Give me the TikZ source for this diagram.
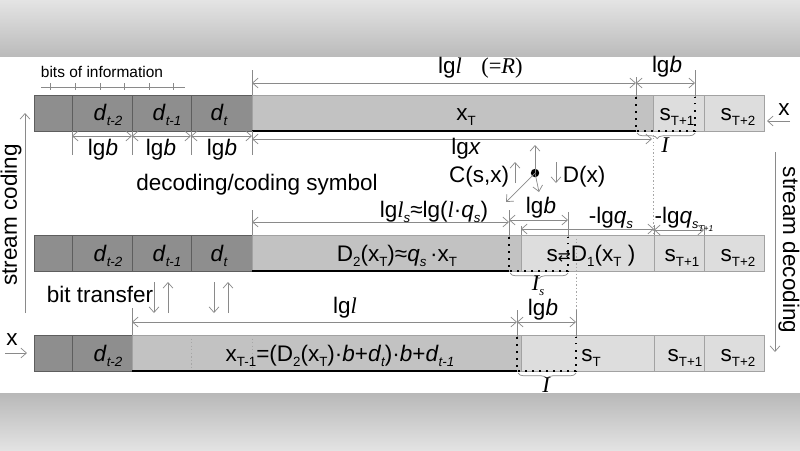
\documentclass[tikz,border=0pt]{standalone}
\usepackage{fontspec}
\setmainfont{Liberation Sans}
\newfontfamily\tms{Liberation Serif}
\newfontfamily\djv{DejaVu Sans}
\usetikzlibrary{arrows.meta,decorations.pathreplacing,fit}
\definecolor{dk}{HTML}{8E8E8E}
\definecolor{dkln}{HTML}{5E5E5E}
\definecolor{md}{HTML}{C2C2C2}
\definecolor{lt}{HTML}{DDDDDD}
\definecolor{ln}{HTML}{A2A2A2}
\definecolor{arr}{HTML}{8A8A8A}
\definecolor{bgA}{HTML}{E4E4E4}
\definecolor{bgB}{HTML}{BBBBBB}
\definecolor{bgC}{HTML}{B8B8B8}
\definecolor{bgD}{HTML}{E3E3E3}
\newcommand\lo[1]{\raisebox{-0.5ex}{\fontsize{9.5}{10}\selectfont #1}}
\newcommand\ilo[1]{\raisebox{-0.5ex}{\fontsize{9.5}{10}\selectfont\itshape #1}}
\begin{document}
\begin{tikzpicture}[x=0.025cm,y=-0.025cm,
  every node/.style={font=\fontsize{16}{18}\selectfont, inner sep=0pt, outer sep=0pt},
  lbl/.style={anchor=base},
  cellbase/.style={inner sep=0pt, outer sep=0pt, line width=0.6pt},
  dkcell/.style={cellbase, fill=dk, draw=dkln},
  mdcell/.style={cellbase, fill=md, draw=ln},
  ltcell/.style={cellbase, fill=lt, draw=ln},
  dim/.style={draw=arr, line width=0.5pt, {Straight Barb[length=4pt,width=7pt]}-{Straight Barb[length=4pt,width=7pt]}},
  tickln/.style={draw=arr, line width=0.5pt},
  sarr/.style={draw=arr, line width=0.5pt, -{Straight Barb[length=4pt,width=7pt]}},
  dotbox/.style={draw=black, line width=1.4pt, dash pattern=on 1.4pt off 3.6pt},
  blkline/.style={draw=black, line width=1.5pt},
  faint/.style={draw=black!35, line width=0.4pt, dash pattern=on 1pt off 1.5pt},
  brc/.style={draw=arr, line width=0.5pt, decorate, decoration={brace, mirror, amplitude=4pt}}
]
\useasboundingbox (0,0) rectangle (800,450);
\fill[white] (0,0) rectangle (800,450);
\shade[top color=bgA, bottom color=bgB] (0,0) rectangle (800,56);
\shade[top color=bgC, bottom color=bgD] (0,393) rectangle (800,450);

% ---------- row 1 ----------
\node[dkcell, fit={(34,95)(72,131)}] (r1a) {};
\node[dkcell, fit={(72,95)(132,131)}] (r1b) {};
\node[dkcell, fit={(132,95)(191,131)}] (r1c) {};
\node[dkcell, fit={(191,95)(252,131)}] (r1d) {};
\node[mdcell, fit={(252,95)(653,131)}] (r1e) {};
\node[ltcell, fit={(653,95)(704,131)}] (r1f) {};
\node[ltcell, fit={(704,95)(764,131)}] (r1g) {};
\node[lbl] (t1b) at (108,120) {\textit{d}\ilo{t-2}};
\node[lbl] (t1c) at (167,120) {\textit{d}\ilo{t-1}};
\node[lbl] (t1d) at (219,120) {\textit{d}\ilo{t}};
\node[lbl] (t1e) at (466,120) {x\lo{T}};
\node[lbl] (t1f) at (677,120) {s\lo{T+1}};
\node[lbl] (t1g) at (738,120) {s\lo{T+2}};
\coordinate (k1a) at (252,131); \coordinate (k1b) at (636,131);
\draw[blkline] (k1a) -- (k1b);
\coordinate (i1a) at (636,97); \coordinate (i1b) at (695,131); \coordinate (i1c) at (695,97);
\draw[dotbox] (i1a) |- (i1b) -- (i1c);
\coordinate (b1a) at (637,133); \coordinate (b1b) at (695,133);
\draw[brc, decoration={aspect=0.35}] (b1a) -- (b1b);
\node[lbl] (I1) at (665,152) {\tms\itshape I};

% bits of information ruler
\node[lbl, font=\fontsize{11}{13}\selectfont] (bits) at (102,77) {bits of information};
\coordinate (ru1) at (41,87); \coordinate (ru2) at (185,87);
\draw[tickln] (ru1) -- (ru2);
\foreach \xx in {50,75,100,124,149,173} { \draw[tickln] (\xx,83) -- (\xx,90); }

% top dimensions
\coordinate (tA) at (252,70); \coordinate (tB) at (636,77); \coordinate (tC) at (695,70);
\draw[tickln] (tA) -- (r1e.north west);
\draw[tickln] (tB) -- (i1a);
\draw[tickln] (tC) -- (i1c);
\coordinate (dA) at (252,83); \coordinate (dB) at (636,83); \coordinate (dC) at (695,83);
\draw[dim] (dA) -- (dB);
\draw[dim] (dB) -- (dC);
\node[lbl] (lgR) at (450,73) {lg{\tms\itshape l}};
\node[lbl] (eqR) at (502,73) {\tms (=\textit{R})};
\node[lbl] (lgbT) at (667,72) {lg\textit{b}};

% x at right
\node[lbl] (xr) at (784,115) {x};
\coordinate (xr1) at (790,121); \coordinate (xr2) at (767,121);
\draw[sarr] (xr1) -- (xr2);

% below row 1
\foreach \xx in {72,132,191,252} { \draw[tickln] (\xx,131) -- (\xx,155); }
\coordinate (e1) at (72,136); \coordinate (e2) at (132,136); \coordinate (e3) at (191,136); \coordinate (e4) at (252,136);
\draw[dim] (e1) -- (e2);
\draw[dim] (e2) -- (e3);
\draw[dim] (e3) -- (e4);
\node[lbl] (lb1) at (103,155) {lg\textit{b}};
\node[lbl] (lb2) at (161,155) {lg\textit{b}};
\node[lbl] (lb3) at (222,155) {lg\textit{b}};
\coordinate (gx1) at (252,139); \coordinate (gx2) at (652,139);
\draw[dim] (gx1) -- (gx2);
\node[lbl] (lgx) at (466,154) {lg\textit{x}};

% vertical faint guides
\coordinate (f1a) at (653,131); \coordinate (f1b) at (653,235);
\draw[faint] (f1a) -- (f1b);

% centre symbol
\node[lbl] (Csx) at (479,182) {C(s,x)};
\node[lbl] (Dx) at (584,182) {D(x)};
\node[lbl] (dcs) at (257,190) {decoding/coding symbol};
\coordinate (c1a) at (515,183); \coordinate (c1b) at (515,162);
\draw[sarr] (c1a) -- (c1b);
\coordinate (c2a) at (556,162); \coordinate (c2b) at (556,183);
\draw[sarr] (c2a) -- (c2b);
\node[circle, fill=black, minimum size=6pt] (dot) at (535,173) {};
\coordinate (c3) at (535,145); \coordinate (c4) at (506,202); \coordinate (c5) at (539,192);
\draw[sarr] (dot.center) -- (c3);
\draw[sarr] (dot.center) -- (c4);
\draw[sarr] (dot.center) -- (c5);

% ---------- row 2 ----------
\node[dkcell, fit={(34,235)(72,271)}] (r2a) {};
\node[dkcell, fit={(72,235)(132,271)}] (r2b) {};
\node[dkcell, fit={(132,235)(191,271)}] (r2c) {};
\node[dkcell, fit={(191,235)(252,271)}] (r2d) {};
\node[mdcell, fit={(252,235)(521,271)}] (r2e) {};
\node[ltcell, fit={(521,235)(654,271)}] (r2f) {};
\node[ltcell, fit={(654,235)(704,271)}] (r2g) {};
\node[ltcell, fit={(704,235)(764,271)}] (r2h) {};
\coordinate (f2a) at (576,235); \coordinate (f2b) at (576,335);
\draw[faint] (f2a) -- (f2b);
\node[lbl] (t2b) at (108,261) {\textit{d}\ilo{t-2}};
\node[lbl] (t2c) at (167,261) {\textit{d}\ilo{t-1}};
\node[lbl] (t2d) at (219,261) {\textit{d}\ilo{t}};
\node[lbl] (t2e) at (397,261) {D\lo{2}(x\lo{T})≈\textit{q}\ilo{s}\,·x\lo{T}};
\node[lbl] (t2f) at (591,261) {s{\djv\fontsize{11}{11}\selectfont ⇄}D\lo{1}(x\lo{T}\ )};
\node[lbl] (t2g) at (682,261) {s\lo{T+1}};
\node[lbl] (t2h) at (738,261) {s\lo{T+2}};
\coordinate (k2a) at (252,271); \coordinate (k2b) at (509,271);
\draw[blkline] (k2a) -- (k2b);
\coordinate (i2a) at (509,237); \coordinate (i2b) at (568,271); \coordinate (i2c) at (568,237);
\draw[dotbox] (i2a) |- (i2b) -- (i2c);
\coordinate (b2a) at (510,273); \coordinate (b2b) at (568,273);
\draw[brc] (b2a) -- (b2b);
\node[lbl] (Is) at (538,290) {\tms\itshape I\raisebox{-0.5ex}{\fontsize{9}{10}\selectfont s}};
% dims above row 2
\coordinate (u1) at (252,210); \coordinate (u2) at (509,210); \coordinate (u3) at (568,212);
\coordinate (u4) at (521,226); \coordinate (u5) at (654,225); \coordinate (u6) at (704,225);
\draw[tickln] (u1) -- (r2e.north west);
\draw[tickln] (u2) -- (i2a);
\draw[tickln] (u3) -- (i2c);
\draw[tickln] (u4) -- (r2f.north west);
\draw[tickln] (u5) -- (r2g.north west);
\draw[tickln] (u6) -- (r2h.north west);
\coordinate (v1) at (252,222); \coordinate (v2) at (509,222);
\draw[dim] (v1) -- (v2);
\coordinate (v3) at (509,220); \coordinate (v4) at (568,220);
\draw[dim] (v3) -- (v4);
\coordinate (v5) at (521,229); \coordinate (v6) at (654,229);
\draw[dim] (v5) -- (v6);
\coordinate (v7) at (654,230); \coordinate (v8) at (704,230);
\draw[dim] (v7) -- (v8);
\node[lbl] (lls) at (434,217) {lg{\tms\itshape l}\ilo{s}≈lg({\tms\itshape l}·\textit{q}\ilo{s})};
\node[lbl] (lgb2) at (541,213) {lg\textit{b}};
\node[lbl] (mq1) at (611,223) {-lg\textit{q}\ilo{s}};
\node[lbl] (mq2) at (684,223) {-lg\textit{q}\raisebox{-0.5ex}{\fontsize{9}{10}\selectfont\itshape s\raisebox{-0.4ex}{\fontsize{6}{7}\selectfont T+1}}};

% side labels
\node[rotate=90] (sc) at (11,215) {stream coding};
\coordinate (sc1) at (25,313); \coordinate (sc2) at (25,113);
\draw[sarr] (sc1) -- (sc2);
\node[rotate=-90] (sd) at (789,250) {stream decoding};
\coordinate (sd1) at (775,152); \coordinate (sd2) at (775,352);
\draw[sarr] (sd1) -- (sd2);

% bit transfer
\node[lbl] (bt) at (100,302) {bit transfer};
\coordinate (w1a) at (154,282); \coordinate (w1b) at (154,313);
\coordinate (w2a) at (168,313); \coordinate (w2b) at (168,282);
\coordinate (w3a) at (214,282); \coordinate (w3b) at (214,313);
\coordinate (w4a) at (228,313); \coordinate (w4b) at (228,282);
\draw[sarr] (w1a) -- (w1b);
\draw[sarr] (w2a) -- (w2b);
\draw[sarr] (w3a) -- (w3b);
\draw[sarr] (w4a) -- (w4b);

% ---------- row 3 ----------
\node[dkcell, fit={(34,335)(72,371)}] (r3a) {};
\node[dkcell, fit={(72,335)(132,371)}] (r3b) {};
\node[mdcell, fit={(132,335)(521,371)}] (r3c) {};
\node[ltcell, fit={(521,335)(654,371)}] (r3d) {};
\node[ltcell, fit={(654,335)(704,371)}] (r3e) {};
\node[ltcell, fit={(704,335)(764,371)}] (r3f) {};
\coordinate (g1a) at (191,335); \coordinate (g1b) at (191,371);
\coordinate (g2a) at (252,335); \coordinate (g2b) at (252,371);
\draw[faint] (g1a) -- (g1b);
\draw[faint] (g2a) -- (g2b);
\node[lbl] (t3b) at (108,361) {\textit{d}\ilo{t-2}};
\node[lbl] (t3c) at (340,361) {x\lo{T-1}=(D\lo{2}(x\lo{T})·\textit{b}+\textit{d}\ilo{t})·\textit{b}+\textit{d}\ilo{t-1}};
\node[lbl] (t3d) at (591,361) {s\lo{T}};
\node[lbl] (t3e) at (685,361) {s\lo{T+1}};
\node[lbl] (t3f) at (738,361) {s\lo{T+2}};
\coordinate (k3a) at (132,371); \coordinate (k3b) at (517,371);
\draw[blkline] (k3a) -- (k3b);
\coordinate (i3a) at (517,337); \coordinate (i3b) at (576,371); \coordinate (i3c) at (576,337);
\draw[dotbox] (i3a) |- (i3b) -- (i3c);
\coordinate (b3a) at (518,373); \coordinate (b3b) at (576,373);
\draw[brc] (b3a) -- (b3b);
\node[lbl] (I3) at (546,392) {\tms\itshape I};
% dims above row 3
\coordinate (p1) at (132,308); \coordinate (p2) at (517,310); \coordinate (p3) at (576,310);
\draw[tickln] (p1) -- (r3c.north west);
\draw[tickln] (p2) -- (i3a);
\draw[tickln] (p3) -- (i3c);
\coordinate (q1) at (132,322); \coordinate (q2) at (517,322); \coordinate (q3) at (576,322);
\draw[dim] (q1) -- (q2);
\draw[dim] (q2) -- (q3);
\node[lbl] (lgl3) at (345,313) {lg{\tms\itshape l}};
\node[lbl] (lgb3) at (543,315) {lg\textit{b}};

% x at left
\node[lbl] (xl) at (12,345) {x};
\coordinate (xl1) at (5,353); \coordinate (xl2) at (27,353);
\draw[sarr] (xl1) -- (xl2);
\end{tikzpicture}
\end{document}
